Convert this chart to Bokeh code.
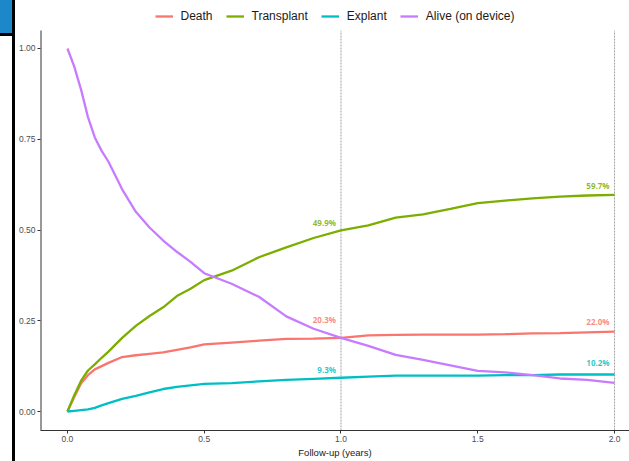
from bokeh.plotting import figure
from bokeh.layouts import row
from bokeh.models import (Legend, LegendItem, FixedTicker, Div,
                          NumeralTickFormatter, ColumnDataSource, Range1d)
from bokeh.core.properties import value
from bokeh.embed import file_html
from bokeh.resources import INLINE

# ---------------- data ----------------
time = [0, 0.025, 0.05, 0.075, 0.1, 0.125, 0.15, 0.2, 0.25, 0.3, 0.35, 0.4, 0.45, 0.5,
        0.6, 0.7, 0.8, 0.9, 1.0, 1.1, 1.2, 1.3, 1.4, 1.5, 1.6, 1.7, 1.8, 1.9, 2.0]

death = [0, 0.04, 0.078, 0.10, 0.116, 0.125, 0.134, 0.150, 0.155, 0.159, 0.163, 0.170, 0.177, 0.185,
         0.190, 0.195, 0.200, 0.201, 0.203, 0.210, 0.211, 0.212, 0.212, 0.212, 0.213, 0.215, 0.216, 0.218, 0.220]

transplant = [0, 0.045, 0.085, 0.113, 0.130, 0.148, 0.165, 0.203, 0.236, 0.263, 0.287, 0.318, 0.338, 0.362,
              0.388, 0.425, 0.452, 0.478, 0.499, 0.513, 0.534, 0.543, 0.558, 0.574, 0.581, 0.587, 0.592, 0.595, 0.597]

explant = [0, 0.002, 0.004, 0.006, 0.010, 0.017, 0.023, 0.035, 0.043, 0.053, 0.062, 0.068, 0.072, 0.076,
           0.078, 0.083, 0.087, 0.090, 0.093, 0.096, 0.099, 0.099, 0.099, 0.099, 0.100, 0.100, 0.102, 0.102, 0.102]

alive = [1.0, 0.95, 0.886, 0.811, 0.755, 0.718, 0.688, 0.612, 0.550, 0.507, 0.471, 0.440, 0.412, 0.381,
         0.352, 0.316, 0.262, 0.228, 0.203, 0.181, 0.156, 0.142, 0.127, 0.112, 0.108, 0.100, 0.091, 0.087, 0.079]

series_names = ["Death", "Transplant", "Explant", "Alive (on device)"]
series_colors = ["#F8766D", "#7CAE00", "#00BFC4", "#C77CFF"]

label_time = [1.0, 1.0, 1.0, 2.0, 2.0, 2.0]
label_value = [0.499, 0.203, 0.093, 0.597, 0.220, 0.102]
label_series = [1, 0, 2, 1, 0, 2]

x_ticks = [0.0, 0.5, 1.0, 1.5, 2.0]
y_ticks = [0.0, 0.25, 0.5, 0.75, 1.0]

X0, X1 = -0.0985, 2.0547      # panel limits (ggplot 5% expansion)
Y0, Y1 = -0.0523, 1.0496

# ---------------- figure ----------------
p = figure(width=614, height=461, output_backend="svg", toolbar_location=None,
           x_range=Range1d(X0, X1), y_range=Range1d(Y0, 1.1322),
           min_border_left=24, min_border_right=0, min_border_top=0, min_border_bottom=31)
p.outline_line_color = None
p.xgrid.grid_line_color = None
p.ygrid.grid_line_color = None

# y axis line only over the panel height
p.segment(x0=[X0], y0=[Y0], x1=[X0], y1=[Y1], line_color="#333333", line_width=2)

for xv in [1.0, 2.0]:
    p.segment(x0=[xv], y0=[Y0], x1=[xv], y1=[Y1], line_color="#8A8A8A",
              line_width=0.8, line_dash="2 1")

renderers = []
for ys, col in zip([death, transplant, explant, alive], series_colors):
    r = p.line(time, ys, line_color=col, line_width=2.3)
    renderers.append(r)

offsets = [-8, -18, -8, -9, -10, -12]
src = ColumnDataSource(dict(
    x=label_time, y=label_value,
    t=[f"{v*100:.1f}%" for v in label_value],
    c=[series_colors[i] for i in label_series],
    yo=offsets))
p.text(x="x", y="y", text="t", text_color="c", text_alpha=0.85, source=src,
       text_align="right", text_baseline="middle", x_offset=-5, y_offset="yo",
       text_font=value("Open Sans"), text_font_style="bold", text_font_size="8px")

for ax in (p.xaxis[0], p.yaxis[0]):
    ax.axis_line_color = "#333333"
    ax.major_tick_line_color = "#333333"
    ax.major_tick_out = 3
    ax.major_tick_in = 0
    ax.minor_tick_line_color = None
    ax.major_label_text_color = "#4D4D4D"
    ax.major_label_text_font = "Liberation Sans"
    ax.major_label_text_font_size = "8.5px"
    ax.major_label_standoff = 2
p.yaxis.axis_line_color = None

p.xaxis.ticker = FixedTicker(ticks=x_ticks)
p.yaxis.ticker = FixedTicker(ticks=y_ticks)
p.xaxis.formatter = NumeralTickFormatter(format="0.0")
p.yaxis.formatter = NumeralTickFormatter(format="0.00")
p.xaxis.axis_label = "Follow-up (years)"
p.xaxis.axis_label_text_font = "Liberation Sans"
p.xaxis.axis_label_text_font_style = "normal"
p.xaxis.axis_label_text_font_size = "9.5px"
p.xaxis.axis_label_text_color = "#1A1A1A"
p.xaxis.axis_label_standoff = 2

legend = Legend(items=[LegendItem(label=n, renderers=[r]) for n, r in zip(series_names, renderers)],
                orientation="horizontal", location="top_center",
                label_text_font="Liberation Sans", label_text_font_size="12px",
                label_text_color="#1A1A1A", glyph_width=18, glyph_height=12,
                label_height=14, label_standoff=8, spacing=13, padding=0, margin=9,
                border_line_alpha=0, background_fill_alpha=0)
p.add_layout(legend, "center")

# slide artefacts at the left edge (blue block and black bar)
edge = Div(width=15, height=461, margin=0, text=(
    '<div style="position:relative;width:15px;height:461px;">'
    '<div style="position:absolute;left:0;top:0;width:12px;height:33px;background:#1C87C9;"></div>'
    '<div style="position:absolute;left:0;top:33px;width:12px;height:3px;background:#000;"></div>'
    '<div style="position:absolute;left:12px;top:0;width:3px;height:461px;background:#000;"></div>'
    '</div>'))

layout = row(edge, p, spacing=0)
open("out.html", "w").write(file_html(layout, INLINE))
